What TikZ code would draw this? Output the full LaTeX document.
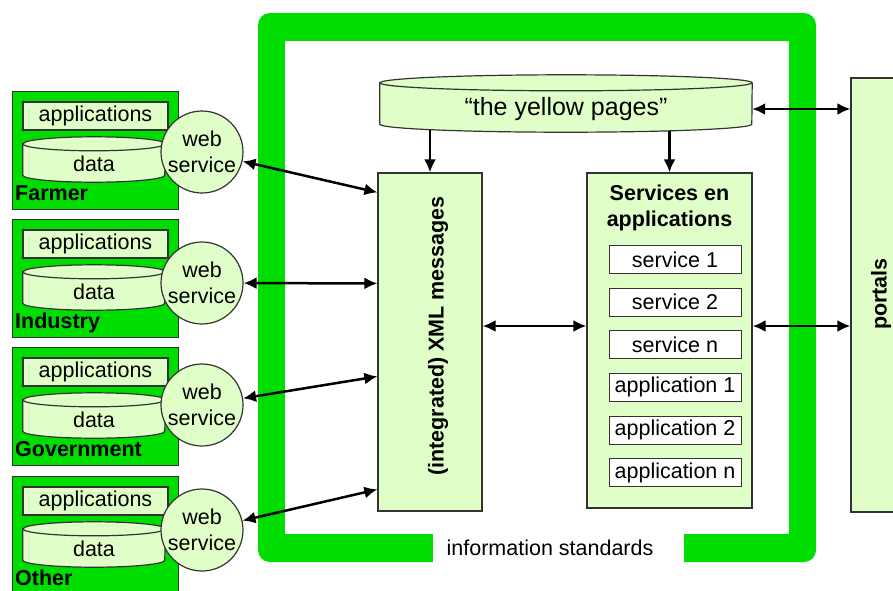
\documentclass[tikz,border=0pt]{standalone}
\usepackage{fontspec}
\setmainfont{Liberation Sans}
\usetikzlibrary{arrows.meta}
\definecolor{grass}{RGB}{0,221,0}
\definecolor{leaf}{RGB}{224,255,200}
\newcommand\txtsize{\fontsize{21.5}{26}\selectfont}
% cylinder round an empty node: #1 node, #2 x radius, #3 y radius
\newcommand\drum[3]{%
  \path[box] (#1.north west) -- (#1.south west)
    arc[start angle=180, end angle=0, x radius=#2, y radius=#3]
    -- (#1.north east)
    arc[start angle=0, end angle=-180, x radius=#2, y radius=#3] -- cycle;
  \path[rim] (#1.north west) arc[start angle=180, end angle=0, x radius=#2, y radius=#3];
}
\begin{document}
\begin{tikzpicture}[x=1pt, y=-1pt, font=\txtsize,
    every node/.style={inner sep=0pt},
    rim/.style={draw=black!80, line width=1.2pt},
    box/.style={rim, fill=leaf},
    grp/.style={rim, fill=grass, minimum width=166, minimum height=118, anchor=north west},
    item/.style={draw=black!80, line width=1pt, fill=white, minimum width=132, minimum height=28},
    ws/.style={circle, box, minimum size=82, align=center},
    tag/.style={font=\txtsize\bfseries, anchor=base west},
    link/.style={line width=2.5pt, >={Latex[length=13pt,width=12pt]}}]
  \useasboundingbox (0,0) rectangle (893,590);

  % information standards frame
  \fill[grass, rounded corners=12] (258,13) rectangle (816,562);
  \fill[white] (285,41) rectangle (789,534);
  \fill[white] (433,530) rectangle (684,566);
  \node (std) at (550,548) {information standards};

  % yellow pages
  \node[minimum width=372, minimum height=41] (yp) at (566,103.5) {};
  \drum{yp}{186}{8}
  \node[font=\fontsize{25}{28}\selectfont] (yp-txt) at (566,109) {“the yellow pages”};

  \node[box, minimum width=104, minimum height=338] (xml) at (430,342) {};
  \node[rotate=90, font=\txtsize\bfseries] (xml-txt) at (438,336) {(integrated) XML messages};

  \node[box, minimum width=165, minimum height=335] (apps) at (669.5,340.5) {};
  \node[font=\txtsize\bfseries, align=center, anchor=north] (apps-txt)
    at ([yshift=-12pt]apps.north) {Services en\\applications};
  \foreach \s [count=\i] in {service 1, service 2, service n, application 1, application 2, application n}
    \node[item] (item-\i) at (675, 217+42.6*\i) {\s};

  \node[box, minimum width=62, minimum height=434] (portal) at (882,295) {};
  \node[rotate=90, font=\txtsize\bfseries] (portal-txt) at (881,294) {portals};

  \coordinate (mid) at (0,326);
  \draw[link,->] (xml.north |- yp.south) ++(0,6) -- (xml.north);
  \draw[link,->] (apps.north |- yp.south) ++(0,7) -- (apps.north);
  \draw[link,<->] (yp.east |- yp-txt) -- (portal.west |- yp-txt);
  \draw[link,<->] (xml.east |- mid) -- (apps.west |- mid);
  \draw[link,<->] (apps.east |- mid) -- (portal.west |- mid);

  % parties with their web services
  \foreach \n/\lbl/\y/\wy/\hy in {farmer/Farmer/91/61/20, industry/Industry/219/64/111,
      gov/Government/347/58/204, other/Other/476/54/317} {
    \node[grp] (\n) at (12,\y) {};
    \node[box, minimum width=145, minimum height=28] (\n-app) at (95.5,\y+25) {applications};
    \node[minimum width=142, minimum height=31] (\n-data) at (94,\y+68.5) {};
    \drum{\n-data}{71}{7}
    \node (\n-dtxt) at (94,\y+72.5) {data};
    \node[tag] (\n-tag) at (15,\y+109) {\lbl};
    \node[ws] (\n-ws) at (202,\y+\wy) {web\\service};
    \draw[link,<->] (\n-ws) -- ([yshift=-\hy pt]xml.north west);
  }
\end{tikzpicture}
\end{document}
